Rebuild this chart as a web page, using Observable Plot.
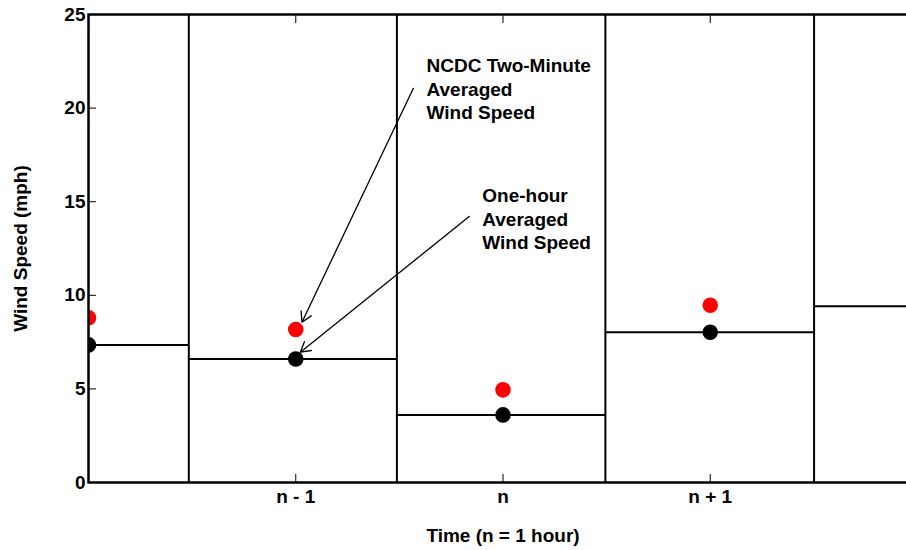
<!DOCTYPE html>
<html><head><meta charset="utf-8">
<script src="https://cdn.jsdelivr.net/npm/d3@7"></script>
<script src="https://cdn.jsdelivr.net/npm/@observablehq/plot@0.6"></script>
<style>html,body{margin:0;padding:0;overflow:hidden;background:#fff}svg{display:block;max-width:none !important;width:930px !important;height:550px !important}</style>
</head><body><div id="chart"></div>
<script>
// Hours relative to n
const hours = [-2, -1, 0, 1, 2];
const tickHours = [-1, 0, 1];
const tickLabels = ["n - 1", "n", "n + 1"];
// One-hour averaged wind speed (mph), black dots / steps
const hourlyAvg = [7.35, 6.60, 3.61, 8.03, 9.42];
// NCDC two-minute averaged wind speed (mph), red dots
const twoMinuteHours = [-2, -1, 0, 1];
const twoMinuteAvg = [8.80, 8.17, 4.95, 9.47];
// Hour boundaries of the step segments
const stepEdges = [-2, -1.516, -0.512, 0.494, 1.501, 2];
const yTicks = [0, 5, 10, 15, 20, 25];
const annotationText = ["NCDC Two-Minute\nAveraged\nWind Speed", "One-hour\nAveraged\nWind Speed"];
const annotationX = [-0.369, -0.100];
const annotationY = [22.81, 15.86];
const arrowStartX = [-0.433, -0.163];
const arrowStartY = [21.05, 14.21];
const arrowEndX = [-0.970, -0.978];
const arrowEndY = [8.56, 6.96];

const segments = hourlyAvg.map((v, i) => ({x1: stepEdges[i], x2: stepEdges[i + 1], y: v}));
const boundaries = stepEdges.slice(1, -1);
const hourly = hours.map((h, i) => ({x: h, y: hourlyAvg[i]}));
const twoMin = twoMinuteHours.map((h, i) => ({x: h, y: twoMinuteAvg[i]}));
const annotations = annotationText.map((t, i) => ({x: annotationX[i], y: annotationY[i], text: t}));
const arrows = arrowStartX.map((x, i) => ({x1: x, y1: arrowStartY[i], x2: arrowEndX[i], y2: arrowEndY[i]}));

const font = "'Liberation Sans', Arial, sans-serif";
const fs = 19;
const blank = () => "";

const chart = Plot.plot({
  width: 930,
  height: 550,
  marginLeft: 88,
  marginRight: 13,
  marginTop: 14,
  marginBottom: 68,
  style: {fontFamily: font, fontSize: fs + "px", fontWeight: "bold", background: "white", color: "black", maxWidth: "none"},
  x: {domain: [-2, 2]},
  y: {domain: [0, 25]},
  marks: [
    Plot.ruleX(boundaries, {x: d => d, stroke: "black", strokeWidth: 2}),
    Plot.ruleY(segments, {x1: "x1", x2: "x2", y: "y", stroke: "black", strokeWidth: 2}),
    Plot.dot(twoMin, {x: "x", y: "y", r: 7.8, fill: "#ff0000", stroke: "none", clip: true}),
    Plot.dot(hourly, {x: "x", y: "y", r: 7.8, fill: "black", stroke: "none", clip: true}),
    Plot.arrow(arrows, {x1: "x1", y1: "y1", x2: "x2", y2: "y2", stroke: "black", strokeWidth: 1.3, headLength: 13}),
    Plot.text(annotations, {x: "x", y: "y", text: "text", textAnchor: "start", lineAnchor: "top", lineHeight: 1.237, fontSize: fs, fontWeight: "bold", fill: "black"}),
    // y axis: labels and inward ticks
    Plot.axisY({ticks: yTicks, tickSize: 0, tickPadding: 3, label: null, fontSize: fs, fontWeight: "bold"}),
    Plot.axisY({ticks: yTicks, tickSize: 8, dx: 8, tickFormat: blank, label: null, strokeWidth: 1}),
    // x axis: labels and inward ticks top/bottom
    Plot.axisX({anchor: "bottom", ticks: tickHours, tickSize: 0, tickPadding: 7, tickFormat: d => tickLabels[tickHours.indexOf(d)], label: null, fontSize: fs, fontWeight: "bold"}),
    Plot.axisX({anchor: "bottom", ticks: tickHours, tickSize: 8, dy: -8, tickFormat: blank, label: null, strokeWidth: 1}),
    Plot.axisX({anchor: "top", ticks: tickHours, tickSize: 8, dy: 8, tickFormat: blank, label: null, strokeWidth: 1}),
    Plot.frame({stroke: "black", strokeWidth: 2.5}),
    Plot.text(["Time (n = 1 hour)"], {frameAnchor: "bottom", dy: 53, textAnchor: "middle", lineAnchor: "middle", fontSize: fs, fontWeight: "bold", fill: "black"}),
    Plot.text(["Wind Speed (mph)"], {frameAnchor: "left", dx: -68, rotate: -90, textAnchor: "middle", lineAnchor: "middle", fontSize: fs, fontWeight: "bold", fill: "black"})
  ]
});
document.getElementById("chart").appendChild(chart);
</script>
</body></html>
